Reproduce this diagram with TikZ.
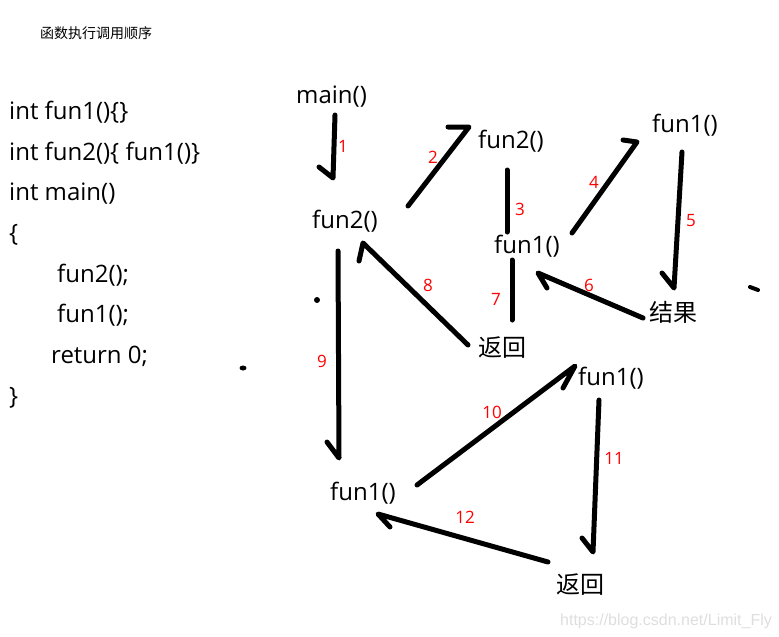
\documentclass[tikz,border=0pt]{standalone}
\usepackage{fontspec}
\setmainfont{Open Sans}
\newfontfamily\cjk{Noto Sans CJK SC}
\newfontfamily\wmfont{Liberation Sans}
\begin{document}
\begin{tikzpicture}[x=1pt,y=-1pt,
  lbl/.style={inner sep=0pt, anchor=base west, font=\fontsize{24}{28}\selectfont},
  zh/.style={inner sep=0pt, font=\cjk\fontsize{24}{28}\selectfont},
  arr/.style={line width=5pt, line cap=round, line join=round},
  num/.style={text=red, inner sep=0pt, font=\fontsize{17}{19}\selectfont},
  blot/.style={fill=black, draw=none}]
\useasboundingbox (0,0) rectangle (779,637);

% title
\node[inner sep=0pt, font=\cjk\fontsize{14}{16}\selectfont] (title) at (96,33) {函数执行调用顺序};

% code
\node[lbl] (c1) at (9,119) {int fun1()\{\}};
\node[lbl] (c2) at (9,160) {int fun2()\{ fun1()\}};
\node[lbl] (c3) at (9,200) {int main()};
\node[lbl] (c4) at (9,241) {\{};
\node[lbl] (c5) at (57,282) {fun2();};
\node[lbl] (c6) at (57,322) {fun1();};
\node[lbl] (c7) at (51,363) {return 0;};
\node[lbl] (c8) at (9,404) {\}};

% call nodes
\node[lbl] (main) at (296,103) {main()};
\node[lbl] (fun2L) at (312,228) {fun2()};
\node[lbl] (fun2T) at (478,148) {fun2()};
\node[lbl] (fun1M) at (494,253) {fun1()};
\node[lbl] (fun1TR) at (652,132) {fun1()};
\node[zh] (res) at (673,312) {结果};
\node[zh] (retM) at (502,348) {返回};
\node[lbl] (fun1R) at (578,385) {fun1()};
\node[lbl] (fun1L) at (330,500) {fun1()};
\node[zh] (retB) at (580,585) {返回};

% connector points
\coordinate (s1) at (335,115); \coordinate (t1) at (333,178); \coordinate (b1) at (319,167);
\coordinate (s2) at (408,206); \coordinate (t2) at (469,127); \coordinate (b2) at (448,127);
\coordinate (s3) at (507,170); \coordinate (t3) at (507,232);
\coordinate (s4) at (572,233); \coordinate (t4) at (637,142); \coordinate (b4) at (623,140);
\coordinate (s5) at (682,152); \coordinate (t5) at (674,288); \coordinate (b5) at (662,273);
\coordinate (s6) at (643,318); \coordinate (t6) at (538,273); \coordinate (b6) at (547,288);
\coordinate (s7) at (512,260); \coordinate (t7) at (512,320);
\coordinate (s8) at (468,345); \coordinate (t8) at (363,243); \coordinate (b8) at (359,261);
\coordinate (s9) at (338,251); \coordinate (t9) at (339,458); \coordinate (b9) at (327,442);
\coordinate (s10) at (417,485); \coordinate (t10) at (575,366); \coordinate (b10) at (563,388);
\coordinate (s11) at (599,400); \coordinate (t11) at (593,552); \coordinate (b11) at (582,538);
\coordinate (s12) at (548,562); \coordinate (t12) at (378,514); \coordinate (b12) at (390,527);

\draw[arr] (b1) -- (t1) -- (s1);
\draw[arr] (b2) -- (t2) -- (s2);
\draw[arr] (s3) -- (t3);
\draw[arr] (b4) -- (t4) -- (s4);
\draw[arr] (b5) -- (t5) -- (s5);
\draw[arr] (b6) -- (t6) -- (s6);
\draw[arr] (s7) -- (t7);
\draw[arr] (b8) -- (t8) -- (s8);
\draw[arr] (b9) -- (t9) -- (s9);
\draw[arr] (b10) -- (t10) -- (s10);
\draw[arr] (b11) -- (t11) -- (s11);
\draw[arr] (b12) -- (t12) -- (s12);

% step numbers
\node[num] (n1) at (343,146) {1};
\node[num] (n2) at (433,157) {2};
\node[num] (n3) at (520,209) {3};
\node[num] (n4) at (594,182) {4};
\node[num] (n5) at (691,221) {5};
\node[num] (n6) at (589,285) {6};
\node[num] (n7) at (496,299) {7};
\node[num] (n8) at (428,285) {8};
\node[num] (n9) at (322,361) {9};
\node[num] (n10) at (492,412) {10};
\node[num] (n11) at (614,458) {11};
\node[num] (n12) at (465,517) {12};

% stray marks
\fill[blot] (317,300) circle (3pt);
\fill[blot] (243,368) ellipse (3.5pt and 2.5pt);
\draw[line width=4pt, line cap=round] (750,287) -- (758,290);

% watermark
\node[inner sep=0pt, anchor=base west, text=black!13, font=\wmfont\fontsize{16}{18}\selectfont] (wm) at (560,625) {https://blog.csdn.net/Limit\_Fly};
\end{tikzpicture}
\end{document}
